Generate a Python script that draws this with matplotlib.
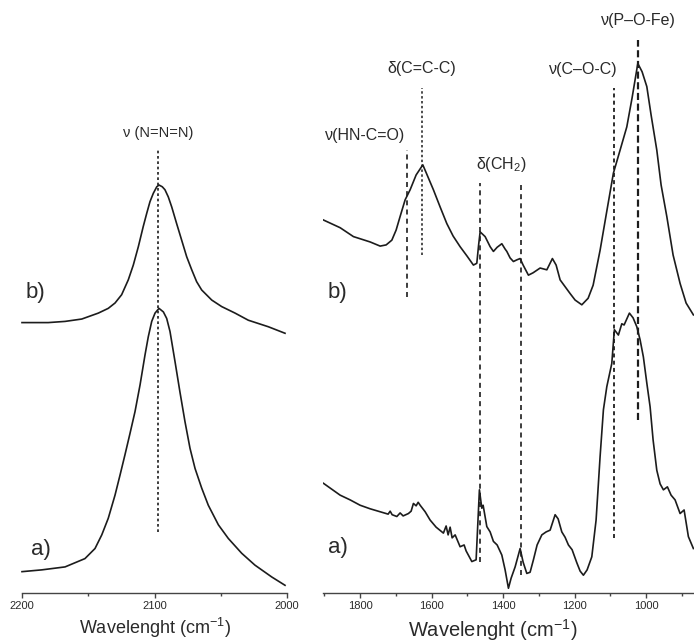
import matplotlib
matplotlib.use("Agg")
import matplotlib.pyplot as plt
from matplotlib.ticker import FixedLocator

plt.rcParams['font.family'] = ['Liberation Sans', 'DejaVu Sans']
plt.rcParams['mathtext.fontset'] = 'custom'
plt.rcParams['mathtext.rm'] = 'Liberation Sans'
plt.rcParams['mathtext.it'] = 'Liberation Sans'

# ---------------- azide region (left panel) ----------------
azide_wn_b = [2200, 2180.2, 2167.5, 2154.9, 2142.4, 2134.9, 2129.8, 2124.8, 2119.8, 2116.0,
              2112.2, 2108.5, 2105.9, 2103.4, 2100.9, 2098.3, 2096.6, 2094.1, 2092.1, 2089.6,
              2087.0, 2083.3, 2079.5, 2075.7, 2071.9, 2068.2, 2064.4, 2056.8, 2049.3, 2039.2,
              2029.2, 2014.1, 2001.5]
azide_int_b = [45.6, 45.6, 45.8, 46.2, 47.2, 48.0, 48.9, 50.3, 52.8, 55.3,
               58.4, 61.8, 64.0, 66.0, 67.4, 68.5, 68.8, 68.5, 68.0, 66.8,
               65.1, 62.3, 59.5, 56.7, 54.5, 52.5, 51.1, 49.4, 48.3, 47.2,
               46.0, 44.9, 43.8]

azide_wn_a = [2200, 2185.1, 2167.5, 2152.5, 2144.9, 2139.8, 2134.9, 2129.8, 2126.0, 2122.3,
              2118.5, 2114.7, 2110.9, 2107.2, 2104.7, 2102.1, 2099.6, 2096.6, 2093.3, 2090.8,
              2088.3, 2084.5, 2080.8, 2077.0, 2073.2, 2069.4, 2064.4, 2059.4, 2051.8, 2044.3,
              2034.2, 2024.2, 2011.5, 2001.5]
azide_int_a = [3.6, 3.9, 4.4, 5.8, 7.5, 9.8, 12.6, 16.5, 19.9, 23.3,
               26.9, 30.6, 35.1, 40.1, 43.2, 45.8, 47.2, 48.0, 47.4, 46.3,
               44.1, 39.0, 33.9, 28.9, 24.4, 21.0, 17.7, 14.8, 11.5, 9.2,
               6.7, 4.7, 2.7, 1.3]

azide_band = 2097
azide_band_span = (10.3, 74.7)
azide_band_label = "ν (N=N=N)"

# ---------------- fingerprint region (right panel) ----------------
fp_wn_b = [1902.6, 1855.9, 1818.7, 1772.0, 1744.0, 1727.2, 1711.3, 1699.3, 1688.1, 1674.1,
           1660.1, 1643.3, 1624.6, 1612.6, 1595.0, 1576.2, 1557.5, 1539.9, 1520.3, 1500.7,
           1483.1, 1473.6, 1468.5, 1464.3, 1450.3, 1436.3, 1427.1, 1416.7, 1403.6, 1394.4,
           1389.6, 1380.4, 1371.2, 1360.8, 1352.4, 1344.0, 1329.2, 1316.1, 1296.5, 1277.7,
           1262.1, 1251.7, 1240.5, 1212.6, 1198.6, 1179.8, 1162.2, 1148.2, 1128.7, 1111.9,
           1091.5, 1072.7, 1054.0, 1039.2, 1023.2, 1011.2, 998.0, 986.0, 970.1, 958.0,
           942.1, 924.5, 904.9, 888.1, 867.7]
fp_int_b = [62.9, 61.6, 60.1, 59.2, 58.5, 58.7, 59.5, 61.2, 63.5, 66.3,
            68.0, 70.5, 72.2, 70.5, 68.0, 65.1, 62.3, 60.2, 58.4, 56.8,
            55.3, 55.6, 58.7, 60.9, 60.1, 58.4, 57.6, 58.3, 58.9, 58.0,
            57.6, 56.5, 55.9, 56.2, 56.4, 55.3, 53.6, 54.0, 54.8, 54.5,
            56.4, 55.3, 52.8, 50.5, 49.4, 48.6, 49.7, 51.9, 57.8, 63.7,
            70.8, 74.7, 78.6, 83.5, 89.3, 87.9, 85.4, 80.6, 74.7, 68.8,
            63.5, 57.0, 52.2, 48.9, 46.9]

fp_wn_a = [1902.6, 1855.9, 1827.9, 1800.0, 1772.0, 1744.0, 1721.6, 1716.0, 1710.4, 1697.3,
           1688.1, 1679.7, 1664.9, 1657.3, 1650.9, 1643.3, 1637.7, 1632.1, 1618.1, 1604.2,
           1587.4, 1567.0, 1559.4, 1553.8, 1548.2, 1542.6, 1534.2, 1520.3, 1509.1, 1503.5,
           1487.5, 1475.5, 1466.3, 1459.6, 1455.9, 1445.6, 1436.3, 1427.1, 1416.7, 1403.6,
           1394.4, 1385.1, 1377.6, 1366.4, 1352.4, 1344.0, 1333.7, 1324.5, 1315.2, 1304.9,
           1291.7, 1279.7, 1268.5, 1254.5, 1246.1, 1235.8, 1226.6, 1217.3, 1207.0, 1193.8,
           1184.6, 1175.4, 1165.0, 1151.9, 1139.9, 1128.7, 1119.4, 1109.9, 1096.0, 1088.7,
           1077.5, 1068.0, 1061.5, 1046.7, 1036.4, 1026.0, 1016.8, 1007.6, 998.0, 988.8,
           980.4, 970.1, 960.8, 951.6, 940.4, 930.1, 918.9, 904.9, 893.7, 881.7,
           867.7]
fp_int_a = [18.5, 16.5, 15.7, 14.8, 14.2, 13.7, 13.3, 13.8, 13.2, 12.9,
            13.5, 13.0, 13.4, 13.8, 15.1, 14.7, 15.3, 14.8, 13.7, 12.3,
            11.1, 10.1, 11.3, 9.8, 11.1, 9.3, 9.8, 7.8, 8.1, 7.1,
            5.3, 5.6, 17.4, 14.3, 14.8, 11.2, 10.3, 8.7, 8.1, 6.4,
            3.9, 0.8, 2.5, 4.4, 7.5, 5.2, 3.3, 3.5, 5.6, 8.1,
            9.8, 10.3, 10.6, 13.2, 12.5, 10.3, 9.4, 8.1, 7.3, 5.1,
            3.7, 3.0, 3.9, 6.1, 12.3, 23.0, 30.9, 34.8, 38.7, 44.4,
            43.5, 45.4, 45.2, 47.2, 46.4, 44.9, 42.7, 39.8, 35.4, 31.4,
            25.8, 20.7, 18.4, 17.4, 17.9, 16.5, 15.7, 13.4, 14.0, 9.5,
            7.5]

# band assignments: position, vertical extent, label
fp_band_wn = [1669, 1626, 1466, 1350, 1090, 1024]
fp_band_lo = [49.9, 57.0, 5.2, 3.0, 9.3, 29.2]
fp_band_hi = [74.7, 85.2, 69.1, 69.1, 85.2, 93.3]
fp_band_labels = ["ν(HN-C=O)", "δ(C=C-C)", "δ(CH$_2$)", "ν(C–O-C)", "ν(P–O-Fe)"]
fp_label_wn = [1785, 1628, 1405, 1177, 1021]
fp_label_y = [77.1, 88.5, 72.2, 88.2, 96.6]

ink = '#1c1c1c'
txt = '#2a2a2a'

fig = plt.figure(figsize=(6.94, 6.43), dpi=100)
ax1 = fig.add_axes([22 / 694, 50 / 643, 265 / 694, 593 / 643])
ax2 = fig.add_axes([323.3 / 694, 50 / 643, (694 - 323.3) / 694, 593 / 643])

for ax in (ax1, ax2):
    ax.set_ylim(0, 100)
    for s in ('top', 'left', 'right'):
        ax.spines[s].set_visible(False)
    ax.spines['bottom'].set_color('#444444')
    ax.spines['bottom'].set_linewidth(1.0)
    ax.set_yticks([])
    ax.tick_params(axis='x', which='major', direction='out', length=3.5, width=1.0,
                   color='#444444', labelsize=8, labelcolor=txt, pad=2.5)
    ax.tick_params(axis='x', which='minor', direction='out', length=2.2, width=1.0,
                   color='#444444')
    ax.patch.set_alpha(0)

# left panel
ax1.set_xlim(2200, 2000)
ax1.xaxis.set_major_locator(FixedLocator([2200, 2100, 2000]))
ax1.xaxis.set_minor_locator(FixedLocator([2150, 2050]))
ax1.plot(azide_wn_b, azide_int_b, color=ink, lw=1.2, clip_on=False)
ax1.plot(azide_wn_a, azide_int_a, color=ink, lw=1.2, clip_on=False)
ax1.vlines(azide_band, *azide_band_span, colors=ink, linestyles=(0, (1.6, 1.6)), lw=1.2)
ax1.text(azide_band, 77.6, azide_band_label, ha='center', va='center', fontsize=10.5, color=txt)
ax1.text(2197, 50.6, "b)", ha='left', va='center', fontsize=16, color=txt)
ax1.text(2193, 7.3, "a)", ha='left', va='center', fontsize=16, color=txt)

# right panel
ax2.set_xlim(1903, 866)
ax2.xaxis.set_major_locator(FixedLocator([1800, 1600, 1400, 1200, 1000]))
ax2.xaxis.set_minor_locator(FixedLocator([1900, 1700, 1500, 1300, 1100, 900]))
ax2.plot(fp_wn_b, fp_int_b, color=ink, lw=1.2)
ax2.plot(fp_wn_a, fp_int_a, color=ink, lw=1.2)

styles = [(0, (3, 2.5)), (0, (1.6, 1.6)), (0, (3, 2.5)), (0, (3, 2.5)), (0, (2.2, 1.8)), (0, (3.2, 1.6))]
widths = [1.2, 1.1, 1.2, 1.2, 1.3, 1.6]
for wn, lo, hi, ls, lw in zip(fp_band_wn, fp_band_lo, fp_band_hi, styles, widths):
    ax2.vlines(wn, lo, hi, colors=ink, linestyles=ls, lw=lw)
for wn, y, lab in zip(fp_label_wn, fp_label_y, fp_band_labels):
    ax2.text(wn, y, lab, ha='center', va='center', fontsize=11.5, color=txt)
ax2.text(1890, 50.6, "b)", ha='left', va='center', fontsize=16, color=txt)
ax2.text(1890, 7.6, "a)", ha='left', va='center', fontsize=16, color=txt)

fig.text(155 / 694, 1 - 634 / 643, "Wavelenght (cm$^{-1}$)", ha='center', va='baseline',
         fontsize=13, color=txt)
fig.text(493 / 694, 1 - 637 / 643, "Wavelenght (cm$^{-1}$)", ha='center', va='baseline',
         fontsize=14.5, color=txt)

fig.savefig("out.png", dpi=100)
